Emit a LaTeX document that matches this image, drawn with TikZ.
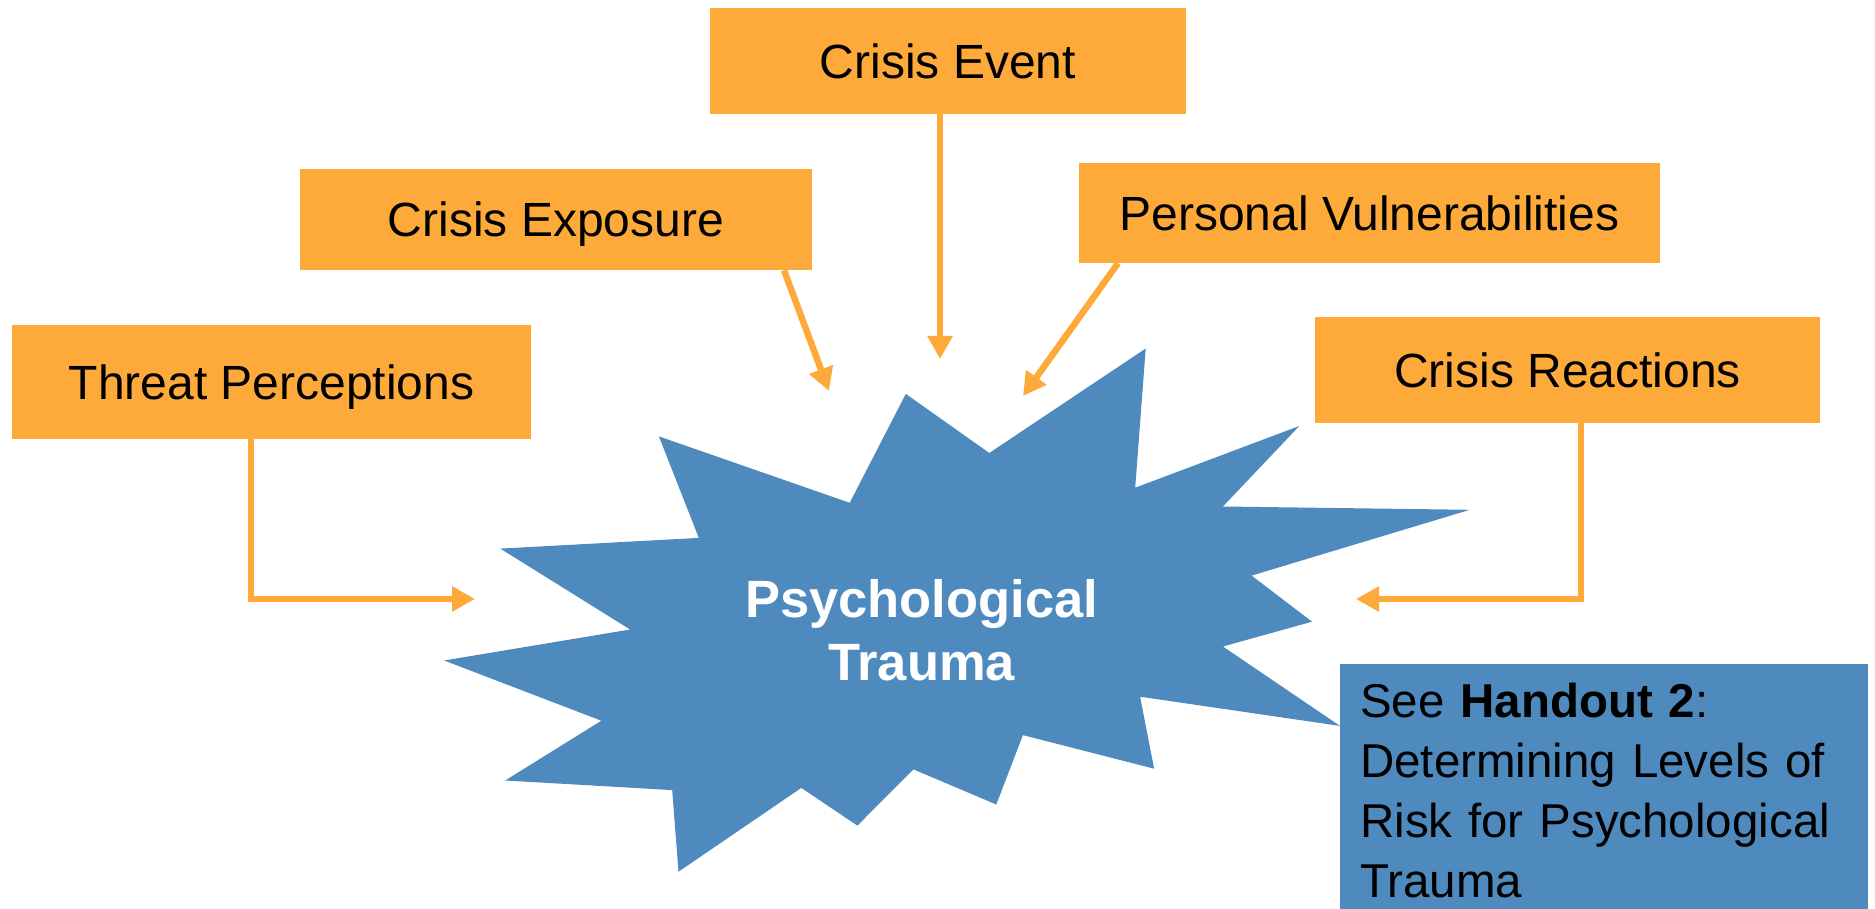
\documentclass[tikz,border=0pt]{standalone}
\usepackage{fontspec}
\setmainfont{Liberation Sans}
\usetikzlibrary{arrows.meta}
\definecolor{orangebox}{HTML}{FDAA3A}
\definecolor{bluestar}{HTML}{4E8ABE}
\begin{document}
\begin{tikzpicture}[x=1pt,y=-1pt,
  box/.style={fill=orangebox, draw=none, inner sep=0pt,
    font=\fontsize{48}{58}\selectfont, text height=34.5pt, text depth=0pt},
  conn/.style={draw=orangebox, line width=6.5pt, -{Triangle[length=23pt,width=24pt]}},
  startext/.style={font=\fontsize{52.5}{63}\selectfont\bfseries, text=white, inner sep=0pt, anchor=base},
]
\useasboundingbox (0,0) rectangle (1875,909);

% starburst
\fill[bluestar] (1145.7,348.5) -- (1135.2,487.7) -- (1299.3,426.0) -- (1222.9,506.5)
  -- (1469.8,509.8) -- (1251.6,575.6) -- (1312.0,621.7) -- (1222.9,646.5)
  -- (1340.0,725.9) -- (1140.1,696.7) -- (1154.1,768.7) -- (1022.9,735.1)
  -- (996.3,804.5) -- (913.5,769.4) -- (857.4,825.6) -- (801.3,787.9)
  -- (678.5,871.7) -- (672.2,790.1) -- (505.2,780.5) -- (601.3,720.7)
  -- (444.2,660.5) -- (630.1,629.5) -- (500.3,548.6) -- (698.8,537.9)
  -- (658.9,436.4) -- (849.7,502.8) -- (905.8,393.9) -- (989.3,453.0) -- cycle;

\node[startext] (trauma1) at (921.6,617) {Psychological};
\node[startext] (trauma2) at (921.6,680) {Trauma};

% boxes
\node[box, minimum width=476pt, minimum height=106pt] (event) at (948,61) {Crisis Event};
\node[box, minimum width=512pt, minimum height=101pt] (exposure) at (556,219.5) {Crisis Exposure};
\node[box, minimum width=581pt, minimum height=100pt] (vuln) at (1369.5,213) {Personal Vulnerabilities};
\node[box, minimum width=519pt, minimum height=114pt] (threat) at (271.5,382) {Threat Perceptions};
\node[box, minimum width=505pt, minimum height=106pt] (reactions) at (1567.5,370) {Crisis Reactions};

\node[fill=bluestar, anchor=north west, minimum width=528pt, minimum height=252pt,
  text width=488pt, inner xsep=20pt, inner ysep=0pt, align=left,
  font=\fontsize{47.5}{60}\selectfont] (handout) at (1340,664)
  {See \textbf{Handout 2}:\\ Determining Levels of\\ Risk for Psychological\\ Trauma};

% arrow tips
\coordinate (tTip) at (475,599);
\coordinate (xTip) at (829,391);
\coordinate (eTip) at (940,359);
\coordinate (vTip) at (1023,396);
\coordinate (rTip) at (1356,599);

\draw[conn] ([xshift=-20.5pt]threat.south) |- (tTip);
\draw[conn] ([xshift=228pt]exposure.south) -- (xTip);
\draw[conn] ([xshift=-8pt]event.south) -- (eTip);
\draw[conn] ([xshift=-251.5pt]vuln.south) -- (vTip);
\draw[conn] ([xshift=13.5pt]reactions.south) |- (rTip);
\end{tikzpicture}
\end{document}
